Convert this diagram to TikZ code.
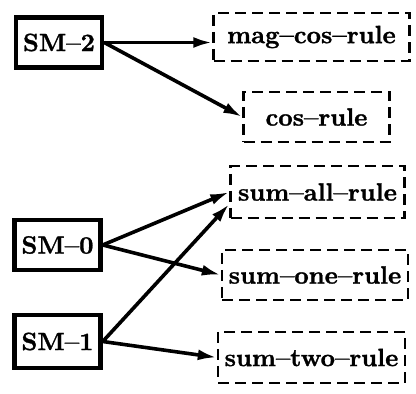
\documentclass[tikz,border=0pt]{standalone}
\usepackage{fontspec}
\newfontfamily\heavy{lmroman10-bold.otf}[FakeBold=1.2,Ligatures=TeX]
\usetikzlibrary{arrows.meta,calc}
\begin{document}
\begin{tikzpicture}[x=1pt,y=1pt,
  smbox/.style={draw,line width=4.5pt,minimum width=86pt,minimum height=50pt,inner sep=0pt,font=\heavy\fontsize{25}{29}\selectfont},
  rulebox/.style={draw,line width=2.4pt,dash pattern=on 11pt off 6pt,minimum height=50pt,inner sep=0pt,font=\heavy\fontsize{25}{29}\selectfont},
  conn/.style={line width=3.6pt,-{Latex[length=19pt,width=11pt]}}]
\useasboundingbox (0,0) rectangle (416,394);
\node[smbox] (sm2) at (59,351.5) {SM--2};
\node[smbox] (sm0) at (57.5,149) {SM--0};
\node[smbox,minimum height=53pt] (sm1) at (57.5,52.5) {SM--1};
\node[rulebox,minimum width=196pt,minimum height=48pt] (mag) at (311.5,357) {mag--cos--rule};
\node[rulebox,minimum width=146pt] (cos) at (316.5,277) {cos--rule};
\node[rulebox,minimum width=174pt,minimum height=52pt] (sall) at (317.5,202) {sum--all--rule};
\node[rulebox,minimum width=186pt] (sone) at (315,119) {sum--one--rule};
\node[rulebox,minimum width=187pt,minimum height=51pt] (stwo) at (311.5,36.5) {sum--two--rule};
\coordinate (sallb) at ($(sall.west)+(0,-12)$);
\coordinate (magin) at (mag.west |- sm2.east);
\draw[conn] (sm2.east) -- (magin);
\draw[conn] (sm2.east) -- (cos.west);
\draw[conn] (sm0.east) -- (sall.west);
\draw[conn] (sm0.east) -- (sone.west);
\draw[conn] (sm1.east) -- (sallb);
\draw[conn] (sm1.east) -- (stwo.west);
\end{tikzpicture}
\end{document}
